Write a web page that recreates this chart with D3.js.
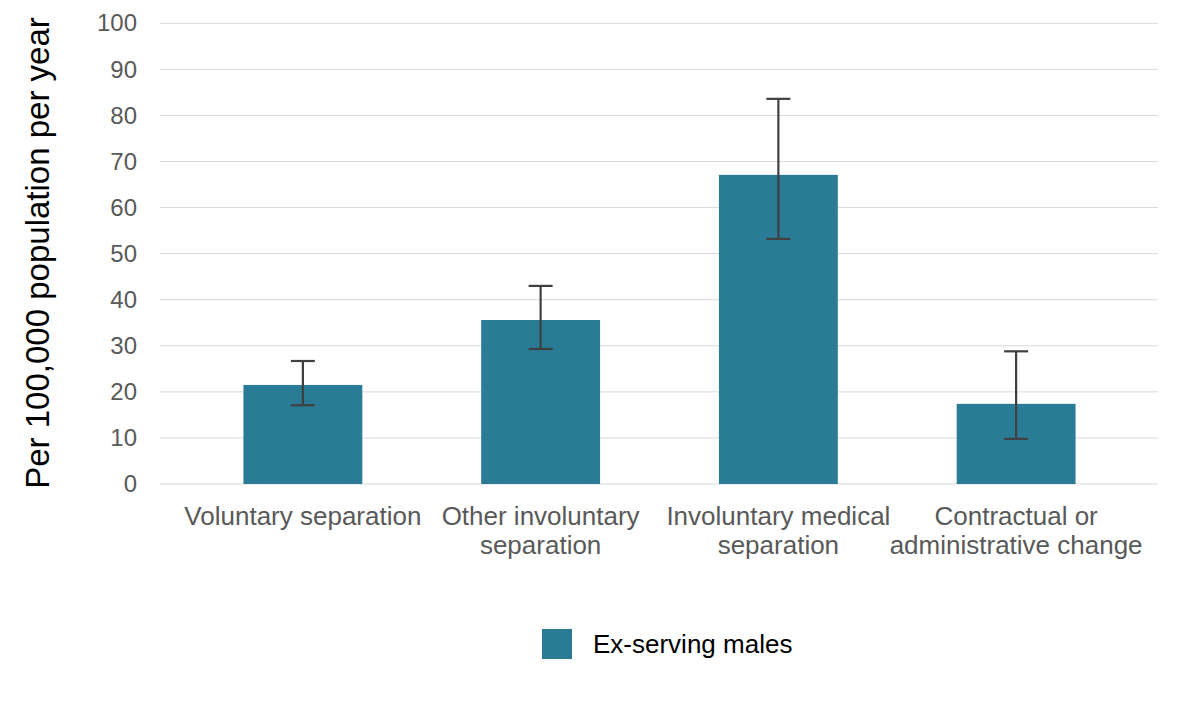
<!DOCTYPE html>
<html lang="en">
<head>
	<meta charset="UTF-8">
	<script src="https://d3js.org/d3.v7.min.js"></script>
	<style>
	body { margin: 0; background: #fff; }
	text { font-family: "Liberation Sans", Arial, sans-serif; }
	</style>
	<title>Ex-serving males</title>
</head>
<body>
	<div id="chart"></div>
	<script>
		// values
		const categories = [
			["Voluntary separation"],
			["Other involuntary", "separation"],
			["Involuntary medical", "separation"],
			["Contractual or", "administrative change"]
		];
		const rates = [21.5, 35.6, 67.1, 17.4];
		const lower = [17.1, 29.3, 53.2, 9.8];
		const upper = [26.7, 43.0, 83.6, 28.8];
		const yTicks = [0, 10, 20, 30, 40, 50, 60, 70, 80, 90, 100];
		const seriesName = "Ex-serving males";

		const width = 1181, height = 708;
		const barColor = "#297b96";

		const svg = d3.select("#chart")
			.append("svg")
			.attr("width", width)
			.attr("height", height);

		const x = d3.scaleBand()
			.domain(d3.range(categories.length))
			.range([184, 1135])
			.paddingInner(0.5)
			.paddingOuter(0.25);

		const y = d3.scaleLinear()
			.domain([0, 100])
			.range([484, 23.3]);

		// gridlines
		svg.append("g")
			.selectAll("line")
			.data(yTicks)
			.join("line")
			.attr("x1", 160)
			.attr("x2", 1158)
			.attr("y1", d => y(d))
			.attr("y2", d => y(d))
			.attr("stroke", "#d9d9d9")
			.attr("stroke-width", 1);

		// y tick labels
		const yAxis = svg.append("g")
			.attr("transform", "translate(145,0)")
			.call(d3.axisLeft(y).tickValues(yTicks).tickSize(0).tickPadding(8));
		yAxis.select(".domain").remove();
		yAxis.selectAll("text")
			.style("font-size", "24px")
			.attr("fill", "#595959");

		// y title
		svg.append("text")
			.attr("transform", "translate(49,253) rotate(-90)")
			.attr("text-anchor", "middle")
			.style("font-size", "33px")
			.attr("fill", "#000")
			.text("Per 100,000 population per year");

		// bars
		svg.append("g")
			.selectAll("rect")
			.data(rates)
			.join("rect")
			.attr("x", (d, i) => x(i))
			.attr("width", x.bandwidth())
			.attr("y", d => y(d))
			.attr("height", d => y(0) - y(d))
			.attr("fill", barColor);

		// error bars
		const err = svg.append("g")
			.attr("stroke", "#404040")
			.attr("stroke-width", 2.2);
		const cx = i => x(i) + x.bandwidth() / 2;
		err.selectAll(".stem")
			.data(rates)
			.join("line")
			.attr("x1", (d, i) => cx(i))
			.attr("x2", (d, i) => cx(i))
			.attr("y1", (d, i) => y(lower[i]))
			.attr("y2", (d, i) => y(upper[i]));
		err.selectAll(".capTop")
			.data(upper)
			.join("line")
			.attr("x1", (d, i) => cx(i) - 12)
			.attr("x2", (d, i) => cx(i) + 12)
			.attr("y1", d => y(d))
			.attr("y2", d => y(d));
		err.selectAll(".capBottom")
			.data(lower)
			.join("line")
			.attr("x1", (d, i) => cx(i) - 12)
			.attr("x2", (d, i) => cx(i) + 12)
			.attr("y1", d => y(d))
			.attr("y2", d => y(d));

		// category labels
		const labels = svg.append("g")
			.selectAll("text")
			.data(categories)
			.join("text")
			.attr("x", (d, i) => cx(i))
			.attr("y", 525)
			.attr("text-anchor", "middle")
			.style("font-size", "26px")
			.attr("fill", "#595959");
		labels.selectAll("tspan")
			.data(d => d)
			.join("tspan")
			.attr("x", function() { return this.parentNode.getAttribute("x"); })
			.attr("dy", (d, i) => i === 0 ? 0 : 29)
			.text(d => d);

		// legend
		const legend = svg.append("g");
		legend.append("rect")
			.attr("x", 542)
			.attr("y", 629)
			.attr("width", 30)
			.attr("height", 30)
			.attr("fill", barColor);
		legend.append("text")
			.attr("x", 593)
			.attr("y", 653)
			.style("font-size", "26px")
			.attr("fill", "#000")
			.text(seriesName);
	</script>
</body>
</html>
